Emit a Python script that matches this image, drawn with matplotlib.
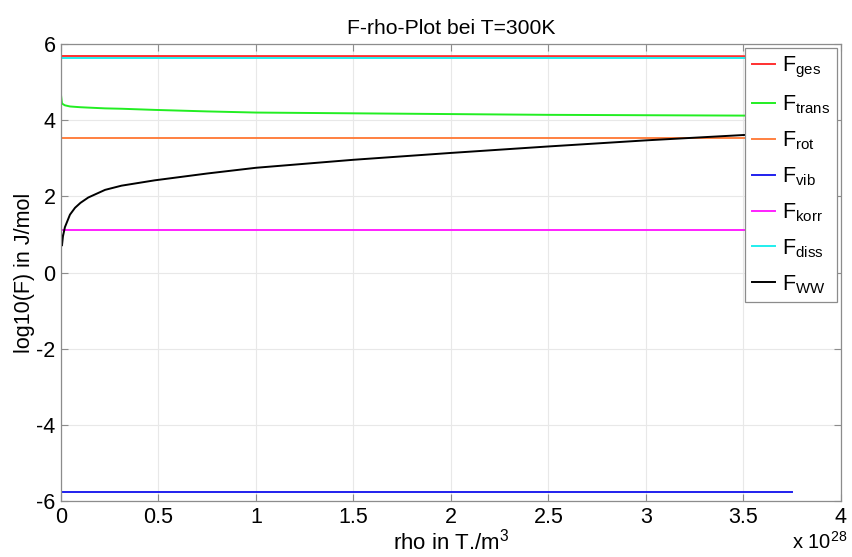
import matplotlib
matplotlib.use("Agg")
import matplotlib.pyplot as plt
from matplotlib.ticker import FuncFormatter, MultipleLocator

plt.rcParams['font.family'] = ['Liberation Sans', 'DejaVu Sans']
plt.rcParams['mathtext.fontset'] = 'custom'
plt.rcParams['mathtext.rm'] = 'Liberation Sans'
plt.rcParams['mathtext.it'] = 'Liberation Sans'
plt.rcParams['mathtext.default'] = 'rm'
plt.rcParams['axes.unicode_minus'] = False

# density in particles per m^3
rho_span = [0.0, 3.75e28]
rho = [0.0, 0.005e28, 0.01e28, 0.02e28, 0.046e28, 0.072e28, 0.1e28, 0.14e28,
       0.226e28, 0.31e28, 0.48e28, 0.75e28, 1.0e28, 1.5e28, 2.0e28, 2.5e28,
       3.0e28, 3.5e28, 3.75e28]

# log10 of the free-energy contributions in J/mol
F_ges = [5.685, 5.68]
F_rot = [3.525, 3.525]
F_vib = [-5.75, -5.75]
F_korr = [1.12, 1.12]
F_diss = [5.63, 5.63]
F_trans = [4.66, 4.44, 4.42, 4.39, 4.36, 4.35, 4.34, 4.33,
           4.31, 4.30, 4.27, 4.23, 4.20, 4.18, 4.16, 4.14,
           4.13, 4.12, 4.115]
F_WW = [1.05, 0.71, 0.95, 1.19, 1.52, 1.70, 1.83, 1.97,
        2.17, 2.28, 2.42, 2.60, 2.75, 2.96, 3.14, 3.31,
        3.47, 3.61, 3.66]

fig = plt.figure(figsize=(8.52, 5.57), dpi=100)
ax = fig.add_axes([0.0716, 0.1005, 0.9154, 0.8205])

lw = 1.4
ax.plot(rho_span, F_ges, color='#ff3030', lw=lw, label=r'F$_{ges}$')
ax.plot(rho, F_trans, color='#22ee22', lw=lw, label=r'F$_{trans}$')
ax.plot(rho_span, F_rot, color='#ff8040', lw=lw, label=r'F$_{rot}$')
ax.plot(rho_span, F_vib, color='#2020ee', lw=lw, label=r'F$_{vib}$')
ax.plot(rho_span, F_korr, color='#ff20ff', lw=lw, label=r'F$_{korr}$')
ax.plot(rho_span, F_diss, color='#20eeee', lw=lw, label=r'F$_{diss}$')
ax.plot(rho, F_WW, color='black', lw=lw, label=r'F$_{WW}$')

ax.set_xlim(0, 4e28)
ax.set_ylim(-6, 6)
ax.xaxis.set_major_locator(MultipleLocator(0.5e28))
ax.yaxis.set_major_locator(MultipleLocator(2))
ax.xaxis.set_major_formatter(FuncFormatter(lambda v, p: f"{v / 1e28:g}"))

ax.grid(True, color='#e8e8e8', lw=0.8)
ax.set_axisbelow(True)
for s in ax.spines.values():
    s.set_color('#8c8c8c')
    s.set_linewidth(0.9)
ax.tick_params(direction='in', length=5, color='#8c8c8c', labelsize=15.5,
               top=True, right=True, pad=4)
ax.tick_params(axis='x', pad=4)

ax.set_title('F-rho-Plot bei T=300K', fontsize=15.2, pad=7)
ax.set_xlabel(r'rho in T./m$^3$', fontsize=16, labelpad=1)
ax.set_ylabel('log10(F) in J/mol', fontsize=15.5, labelpad=1)

# scale factor of the x axis, set below its right end
fig.text(0.995, 0.014, r'x 10$^{28}$', fontsize=14.5, ha='right',
         va='baseline')

leg = ax.legend(loc='upper right', fontsize=15.5, frameon=True, fancybox=False,
                framealpha=1, edgecolor='#8c8c8c', handlelength=1.1,
                handletextpad=0.3, labelspacing=0.62, borderpad=0.3,
                borderaxespad=0.2)
leg.get_frame().set_linewidth(0.9)

fig.savefig('out.png', dpi=100)
